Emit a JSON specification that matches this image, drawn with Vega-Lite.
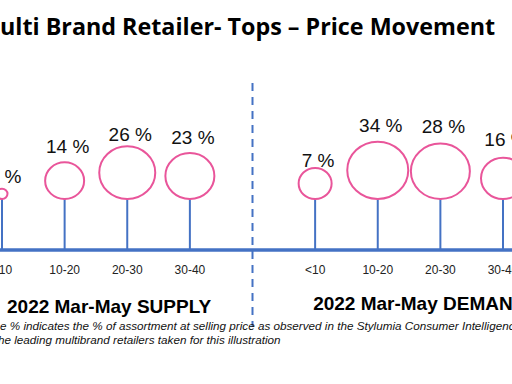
{
  "$schema": "https://vega.github.io/schema/vega-lite/v6.json",
  "width": 512,
  "height": 384,
  "autosize": {"type": "none"},
  "padding": 0,
  "background": "white",
  "config": {"view": {"stroke": null}, "text": {"font": "Liberation Sans", "color": "#111111"}},
  "datasets": {
    "bands": [
      {"section": "SUPPLY", "band": "<10", "key": "S<10", "pct": 5, "label": "5 %"},
      {"section": "SUPPLY", "band": "10-20", "key": "S10-20", "pct": 14, "label": "14 %"},
      {"section": "SUPPLY", "band": "20-30", "key": "S20-30", "pct": 26, "label": "26 %"},
      {"section": "SUPPLY", "band": "30-40", "key": "S30-40", "pct": 23, "label": "23 %"},
      {"section": "DEMAND", "band": "<10", "key": "D<10", "pct": 7, "label": "7 %"},
      {"section": "DEMAND", "band": "10-20", "key": "D10-20", "pct": 34, "label": "34 %"},
      {"section": "DEMAND", "band": "20-30", "key": "D20-30", "pct": 28, "label": "28 %"},
      {"section": "DEMAND", "band": "30-40", "key": "D30-40", "pct": 16, "label": "16 %"}
    ],
    "one": [{}]
  },
  "data": {"name": "bands"},
  "resolve": {"scale": {"y": "independent"}},
  "layer": [
    {
      "data": {"name": "one"},
      "mark": {"type": "rule", "color": "#4472C4", "strokeWidth": 3.5},
      "encoding": {
        "y": {"datum": 0, "type": "quantitative", "scale": {"domain": [-134, 250], "nice": false, "zero": false}, "axis": null}
      }
    },
    {
      "data": {"name": "one"},
      "mark": {"type": "rule", "color": "#4472C4", "strokeWidth": 2, "strokeDash": [8, 6]},
      "encoding": {
        "x": {"datum": "gap", "type": "nominal", "scale": {"type": "point", "padding": 0, "domain": ["S<10", "S10-20", "S20-30", "S30-40", "gap", "D<10", "D10-20", "D20-30", "D30-40"], "range": [2, 503]}, "axis": null},
        "y": {"datum": 167, "type": "quantitative", "scale": {"domain": [-134, 250], "nice": false, "zero": false}, "axis": null},
        "y2": {"datum": -77}
      }
    },
    {
      "mark": {"type": "rule", "color": "#4472C4", "strokeWidth": 2},
      "encoding": {
        "x": {"field": "key", "type": "nominal", "scale": {"type": "point", "padding": 0, "domain": ["S<10", "S10-20", "S20-30", "S30-40", "gap", "D<10", "D10-20", "D20-30", "D30-40"], "range": [2, 503]}, "axis": null},
        "y": {"datum": 0, "type": "quantitative", "scale": {"domain": [-134, 250], "nice": false, "zero": false}, "axis": null},
        "y2": {"datum": 51}
      }
    },
    {
      "mark": {"type": "point", "shape": "M0,0 A1,0.94 0 1,1 0,-1.88 A1,0.94 0 1,1 0,0 Z", "filled": false, "color": "#E9559A", "strokeWidth": 2, "opacity": 1},
      "encoding": {
        "x": {"field": "key", "type": "nominal", "scale": {"type": "point", "padding": 0, "domain": ["S<10", "S10-20", "S20-30", "S30-40", "gap", "D<10", "D10-20", "D20-30", "D30-40"], "range": [2, 503]}, "axis": null},
        "y": {"datum": 51, "type": "quantitative", "scale": {"domain": [-134, 250], "nice": false, "zero": false}, "axis": null},
        "size": {"field": "pct", "type": "quantitative", "scale": {"type": "linear", "domain": [5, 7, 14, 16, 23, 26, 28, 34], "range": [121, 1089, 1521, 1936, 2401, 3136, 3481, 3721], "zero": false, "nice": false}, "legend": null}
      }
    },
    {
      "mark": {"type": "text", "fontSize": 19, "dx": 3, "baseline": "middle", "align": "center"},
      "encoding": {
        "x": {"field": "key", "type": "nominal", "scale": {"type": "point", "padding": 0, "domain": ["S<10", "S10-20", "S20-30", "S30-40", "gap", "D<10", "D10-20", "D20-30", "D30-40"], "range": [2, 503]}, "axis": null},
        "y": {"field": "pct", "type": "quantitative", "scale": {"type": "linear", "domain": [5, 7, 14, 16, 23, 26, 28, 34], "range": [177, 161, 146.5, 139.5, 138, 134.5, 127, 126], "zero": false, "nice": false}, "axis": null},
        "text": {"field": "label"}
      }
    },
    {
      "mark": {"type": "text", "fontSize": 12, "baseline": "alphabetic", "align": "center", "color": "#222222"},
      "encoding": {
        "x": {"field": "key", "type": "nominal", "scale": {"type": "point", "padding": 0, "domain": ["S<10", "S10-20", "S20-30", "S30-40", "gap", "D<10", "D10-20", "D20-30", "D30-40"], "range": [2, 503]}, "axis": null},
        "y": {"datum": -24, "type": "quantitative", "scale": {"domain": [-134, 250], "nice": false, "zero": false}, "axis": null},
        "text": {"field": "band"}
      }
    },
    {
      "data": {"name": "one"},
      "mark": {"type": "text", "text": "2022 Mar-May SUPPLY", "fontSize": 19, "fontWeight": "bold", "align": "left", "baseline": "alphabetic", "dx": 5, "color": "#000000"},
      "encoding": {
        "x": {"datum": "S<10", "type": "nominal", "scale": {"type": "point", "padding": 0, "domain": ["S<10", "S10-20", "S20-30", "S30-40", "gap", "D<10", "D10-20", "D20-30", "D30-40"], "range": [2, 503]}, "axis": null},
        "y": {"datum": -63, "type": "quantitative", "scale": {"domain": [-134, 250], "nice": false, "zero": false}, "axis": null}
      }
    },
    {
      "data": {"name": "one"},
      "mark": {"type": "text", "text": "2022 Mar-May DEMAND", "fontSize": 19, "fontWeight": "bold", "align": "left", "baseline": "alphabetic", "dx": -2, "color": "#000000"},
      "encoding": {
        "x": {"datum": "D<10", "type": "nominal", "scale": {"type": "point", "padding": 0, "domain": ["S<10", "S10-20", "S20-30", "S30-40", "gap", "D<10", "D10-20", "D20-30", "D30-40"], "range": [2, 503]}, "axis": null},
        "y": {"datum": -60, "type": "quantitative", "scale": {"domain": [-134, 250], "nice": false, "zero": false}, "axis": null}
      }
    },
    {
      "data": {"name": "one"},
      "mark": {"type": "text", "text": "ulti Brand Retailer- Tops – Price Movement", "font": "Open Sans", "fontSize": 23.3, "fontWeight": "bold", "align": "left", "baseline": "alphabetic", "dx": -2, "color": "#000000"},
      "encoding": {
        "x": {"datum": "S<10", "type": "nominal", "scale": {"type": "point", "padding": 0, "domain": ["S<10", "S10-20", "S20-30", "S30-40", "gap", "D<10", "D10-20", "D20-30", "D30-40"], "range": [2, 503]}, "axis": null},
        "y": {"datum": 215, "type": "quantitative", "scale": {"domain": [-134, 250], "nice": false, "zero": false}, "axis": null}
      }
    },
    {
      "data": {"name": "one"},
      "mark": {"type": "text", "text": "e % indicates the % of assortment at selling price as observed in the Stylumia Consumer Intelligence To", "fontSize": 11.7, "fontStyle": "italic", "align": "left", "baseline": "alphabetic", "dx": -2, "color": "#111111"},
      "encoding": {
        "x": {"datum": "S<10", "type": "nominal", "scale": {"type": "point", "padding": 0, "domain": ["S<10", "S10-20", "S20-30", "S30-40", "gap", "D<10", "D10-20", "D20-30", "D30-40"], "range": [2, 503]}, "axis": null},
        "y": {"datum": -80, "type": "quantitative", "scale": {"domain": [-134, 250], "nice": false, "zero": false}, "axis": null}
      }
    },
    {
      "data": {"name": "one"},
      "mark": {"type": "text", "text": "he leading multibrand retailers taken for this illustration", "fontSize": 11.7, "fontStyle": "italic", "align": "left", "baseline": "alphabetic", "dx": -4, "color": "#111111"},
      "encoding": {
        "x": {"datum": "S<10", "type": "nominal", "scale": {"type": "point", "padding": 0, "domain": ["S<10", "S10-20", "S20-30", "S30-40", "gap", "D<10", "D10-20", "D20-30", "D30-40"], "range": [2, 503]}, "axis": null},
        "y": {"datum": -94, "type": "quantitative", "scale": {"domain": [-134, 250], "nice": false, "zero": false}, "axis": null}
      }
    }
  ]
}
